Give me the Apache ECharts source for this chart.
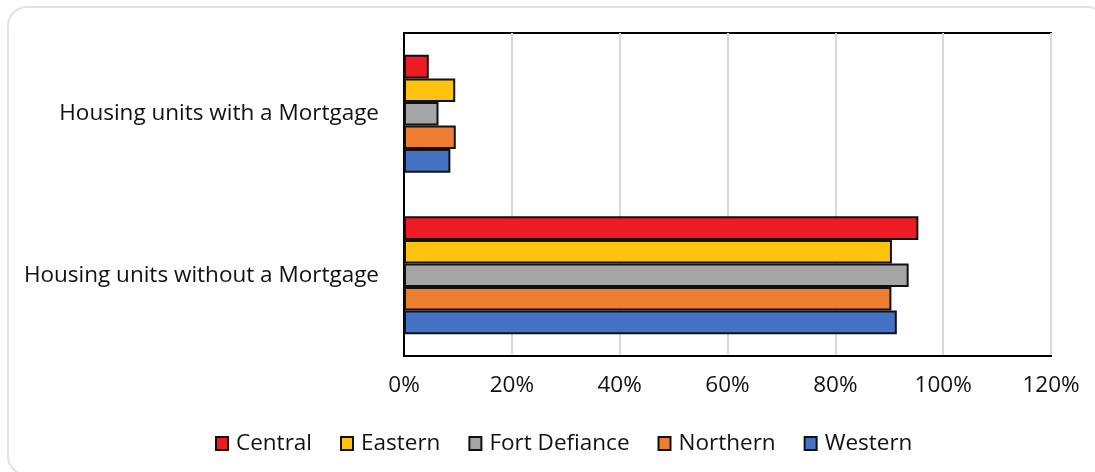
<!DOCTYPE html>
<html>
<head>
<meta charset="utf-8">
<script src="https://cdn.jsdelivr.net/npm/echarts@6/dist/echarts.min.js"></script>
<style>
  html, body { margin: 0; padding: 0; background: #fff; }
  #frame {
    position: absolute; left: 7px; top: 6px; width: 1100px; height: 470px;
    border: 2px solid #e2e2e2; border-radius: 20px; box-sizing: border-box;
  }
  #chart { position: absolute; left: 0; top: 0; width: 1095px; height: 472px; }
</style>
</head>
<body>
<div id="frame"></div>
<div id="chart"></div>
<script>
// Share of housing units by mortgage status, per agency (percent)
const categories = ['Housing units with a Mortgage', 'Housing units without a Mortgage'];
const seriesNames = ['Central', 'Eastern', 'Fort Defiance', 'Northern', 'Western'];
const central = [4.6, 95.4];
const eastern = [9.5, 90.5];
const fortDefiance = [6.4, 93.6];
const northern = [9.6, 90.4];
const western = [8.6, 91.4];
const xTicks = { min: 0, max: 120, interval: 20 };

const seriesValues = [central, eastern, fortDefiance, northern, western];
const colors = ['#ED1C24', '#FFC20E', '#A5A5A5', '#ED7D31', '#4472C4'];
const font = '"Open Sans", sans-serif';
const fontSize = 22.5;

const chart = echarts.init(document.getElementById('chart'), null, { renderer: 'canvas' });
chart.setOption({
  animation: false,
  textStyle: { fontFamily: font },
  grid: {
    left: 404, right: 44, top: 33, bottom: 116,
    show: true, borderColor: '#000', borderWidth: 2, backgroundColor: 'transparent'
  },
  legend: {
    data: seriesNames,
    left: 210, top: 427,
    icon: 'rect', itemWidth: 12, itemHeight: 13, itemGap: 28,
    textStyle: { fontFamily: font, fontSize: fontSize, color: '#111', padding: [0, 0, 0, 3] }
  },
  xAxis: {
    type: 'value',
    min: xTicks.min, max: xTicks.max, interval: xTicks.interval,
    axisLine: { show: true, lineStyle: { color: '#000', width: 2 } },
    axisTick: { show: false },
    splitLine: { show: true, lineStyle: { color: '#d9d9d9', width: 2 } },
    axisLabel: { formatter: '{value}%', fontFamily: font, fontSize: fontSize, color: '#111', margin: 18 }
  },
  yAxis: {
    type: 'category',
    inverse: true,
    data: categories,
    axisLine: { show: true, lineStyle: { color: '#000', width: 2 } },
    axisTick: { show: false },
    axisLabel: { fontFamily: font, fontSize: fontSize, color: '#111', margin: 25 }
  },
  series: seriesNames.map((name, i) => ({
    name,
    type: 'bar',
    data: seriesValues[i],
    barGap: '0%',
    barCategoryGap: '27%',
    itemStyle: { color: colors[i], borderColor: '#111', borderWidth: 2 }
  }))
});
</script>
</body>
</html>
